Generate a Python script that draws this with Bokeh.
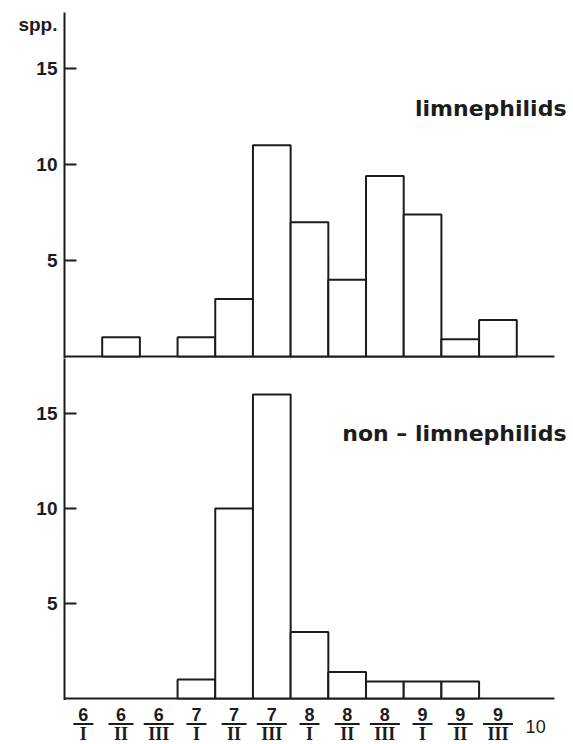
from bokeh.plotting import figure
from bokeh.layouts import column
from bokeh.models import Range1d, FixedTicker, Label, ColumnDataSource
from bokeh.core.properties import value
from bokeh.embed import file_html
from bokeh.resources import INLINE

# ---- data ----
months = ["6", "6", "6", "7", "7", "7", "8", "8", "8", "9", "9", "9"]
decades = ["I", "II", "III", "I", "II", "III", "I", "II", "III", "I", "II", "III"]
limnephilids = [0, 1, 0, 1, 3, 11, 7, 4, 9.4, 7.4, 0.9, 1.9]
non_limnephilids = [0, 0, 0, 1, 10, 16, 3.5, 1.4, 0.9, 0.9, 0.9, 0]
end_tick = "10"
y_ticks = [5, 10, 15]
unit_label = "spp."

INK = "#1c1c1c"
W = 573
LEFT = 64
SLOT_PX = 37.69
n = len(months)
x_end = (W - LEFT) / SLOT_PX
xr = Range1d(0, x_end)
centers = [i + 0.5 for i in range(n)]
TICK_LEN = 12 / SLOT_PX


def panel(height, y_range, top_border, extra_label=None):
    p = figure(width=W, height=height, x_range=xr, y_range=y_range,
               x_axis_location=None, output_backend="svg", toolbar_location=None,
               min_border_left=LEFT, min_border_right=0, min_border_top=top_border,
               min_border_bottom=0, background_fill_color="white",
               border_fill_color="white")
    p.outline_line_color = None
    p.grid.visible = False
    ax = p.yaxis[0]
    ticks = list(y_ticks)
    if extra_label is not None:
        ticks.append(extra_label[0])
        ax.major_label_overrides = {extra_label[0]: extra_label[1]}
    ax.ticker = FixedTicker(ticks=ticks)
    ax.axis_line_width = 2
    ax.axis_line_color = INK
    ax.major_tick_line_color = None
    ax.minor_tick_line_color = None
    ax.major_tick_in = 0
    ax.major_tick_out = 0
    ax.major_label_standoff = 7
    ax.major_label_text_font = "Liberation Sans"
    ax.major_label_text_font_style = "bold"
    ax.major_label_text_font_size = "19px"
    ax.major_label_text_color = INK
    # inward tick marks
    p.segment(x0=[0] * len(y_ticks), x1=[TICK_LEN] * len(y_ticks), y0=y_ticks, y1=y_ticks,
              line_color=INK, line_width=2)
    # baseline
    p.segment(x0=[0], x1=[n + 1], y0=[0], y1=[0], line_color=INK, line_width=2)
    return p


def bars(p, vals):
    xs = [c for c, v in zip(centers, vals) if v > 0]
    ts = [v for v in vals if v > 0]
    src = ColumnDataSource(dict(x=xs, top=ts))
    p.vbar(x="x", top="top", bottom=0, width=1, source=src, fill_color="white",
           line_color=INK, line_width=2)


top = panel(358, Range1d(-0.104, 17.92), 12, extra_label=(17.3, unit_label))
bars(top, limnephilids)
top.add_layout(Label(x=n + 1, y=12.9, x_offset=12, text="limnephilids", text_align="right",
                     text_baseline="alphabetic", text_font="DejaVu Sans",
                     text_font_style="bold", text_font_size="22px", text_color=INK))

bottom = panel(342, Range1d(-0.105, 17.895), 0)
bars(bottom, non_limnephilids)
bottom.add_layout(Label(x=n + 1, y=13.95, x_offset=12, text="non \u2013 limnephilids",
                        text_align="right", text_baseline="alphabetic",
                        text_font="DejaVu Sans", text_font_style="bold",
                        text_font_size="22px", text_color=INK))

# ---- x tick labels as fractions ----
LAB_H = 44
lab = figure(width=W, height=LAB_H, x_range=xr, y_range=Range1d(0, LAB_H),
             x_axis_location=None, y_axis_location=None, output_backend="svg",
             toolbar_location=None, min_border_left=LEFT, min_border_right=0,
             min_border_top=0, min_border_bottom=0)
lab.outline_line_color = None
lab.grid.visible = False
half = [(10 + 2.5 * (len(d) - 1)) / SLOT_PX for d in decades]
src = ColumnDataSource(dict(x=centers, num=months, den=decades,
                            x0=[c - h for c, h in zip(centers, half)],
                            x1=[c + h for c, h in zip(centers, half)]))
lab.text(x="x", y=30, text="num", source=src, text_align="center",
         text_baseline="middle", text_font=value("Liberation Sans"),
         text_font_style="bold", text_font_size="18px", text_color=INK)
lab.segment(x0="x0", x1="x1", y0=20.5, y1=20.5, source=src, line_color=INK, line_width=2)
lab.text(x="x", y=11, text="den", source=src, text_align="center",
         text_baseline="middle", text_font=value("Liberation Serif"),
         text_font_style="bold", text_font_size="18px", text_color=INK)
lab.text(x=[n + 0.5], y=[18], text=[end_tick], text_align="center",
         text_baseline="middle", text_font=value("Liberation Sans"),
         text_font_size="18px", text_color=INK)

layout = column(top, bottom, lab, spacing=0)
open("out.html", "w").write(file_html(layout, INLINE))
